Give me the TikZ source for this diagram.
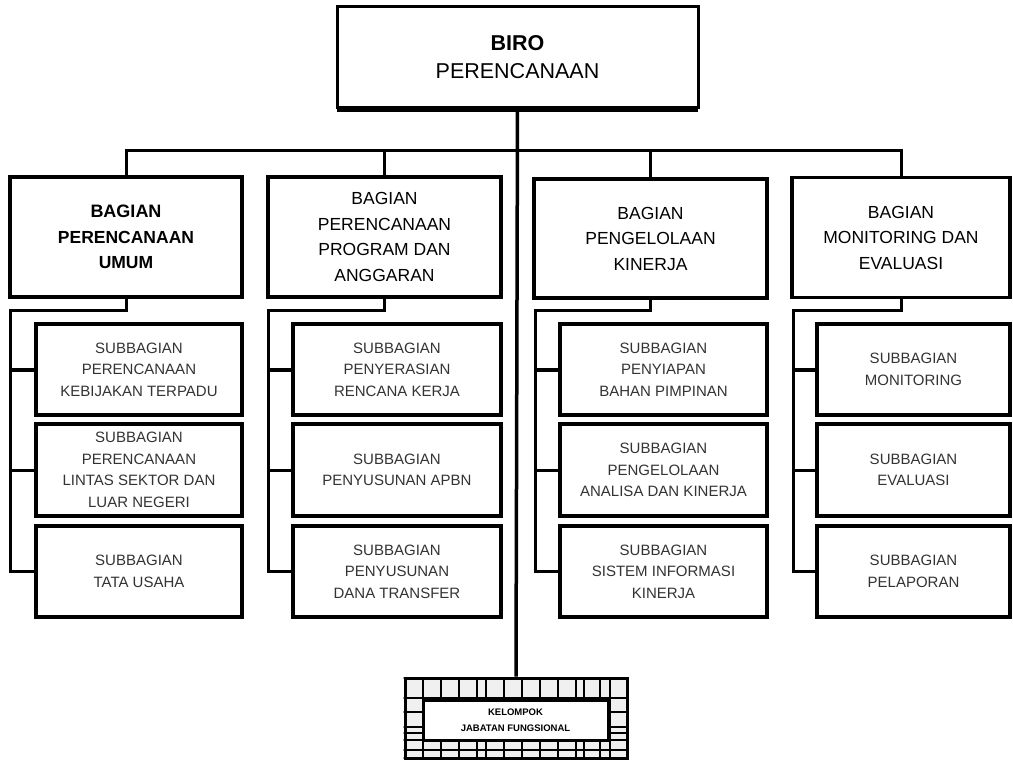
\documentclass[tikz,border=0pt]{standalone}
\usepackage{fontspec}
\setmainfont{Liberation Sans}
\begin{document}
\begin{tikzpicture}[x=1pt,y=-1pt,
  box/.style={draw,line width=3.2pt,fill=white,inner sep=2pt,align=center},
  topbox/.style={box,line width=3pt,minimum width=361pt,minimum height=101pt,font=\fontsize{21.5}{28}\selectfont},
  lvl/.style={box,minimum width=232pt,minimum height=120pt,font=\fontsize{17.5}{25.5}\selectfont},
  sub/.style={box,minimum height=91pt,text=black!80,font=\fontsize{15}{21.5}\selectfont},
  conn/.style={line width=3pt},
  grid line/.style={line width=1.4pt}]
\useasboundingbox (0,0) rectangle (1013,760);

% top
\node[topbox] (top) at (517.5,57.5) {\textbf{BIRO}\\PERENCANAAN};
\draw[line width=5pt] ([xshift=1.5pt]top.south west) -- ([xshift=-1.5pt]top.south east);

% level 2
\node[lvl] (L1) at (126,237) {\fontsize{18}{26}\selectfont\textbf{BAGIAN}\\\textbf{PERENCANAAN}\\\textbf{UMUM}};
\node[lvl,minimum width=233pt] (L2) at (384.5,237) {BAGIAN\\PERENCANAAN\\PROGRAM DAN\\ANGGARAN};
\node[lvl,minimum width=233pt,minimum height=119pt] (L3) at (650.5,238.5) {BAGIAN\\PENGELOLAAN\\KINERJA};
\node[lvl,minimum width=218pt] (L4) at (901,237.5) {BAGIAN\\MONITORING DAN\\EVALUASI};

% sub boxes column 1
\node[sub,minimum width=206pt] (A1) at (139,369.5) {SUBBAGIAN\\PERENCANAAN\\KEBIJAKAN TERPADU};
\node[sub,minimum width=206pt,minimum height=92pt] (A2) at (139,470) {SUBBAGIAN\\PERENCANAAN\\LINTAS SEKTOR DAN\\LUAR NEGERI};
\node[sub,minimum width=206pt] (A3) at (139,571.5) {SUBBAGIAN\\TATA USAHA};
% column 2
\node[sub,minimum width=208pt] (B1) at (397,369.5) {SUBBAGIAN\\PENYERASIAN\\RENCANA KERJA};
\node[sub,minimum width=208pt,minimum height=92pt] (B2) at (397,470) {SUBBAGIAN\\PENYUSUNAN APBN};
\node[sub,minimum width=208pt] (B3) at (397,571.5) {SUBBAGIAN\\PENYUSUNAN\\DANA TRANSFER};
% column 3
\node[sub,minimum width=207pt] (C1) at (663.5,369.5) {SUBBAGIAN\\PENYIAPAN\\BAHAN PIMPINAN};
\node[sub,minimum width=207pt,minimum height=92pt] (C2) at (663.5,470) {SUBBAGIAN\\PENGELOLAAN\\ANALISA DAN KINERJA};
\node[sub,minimum width=207pt] (C3) at (663.5,571.5) {SUBBAGIAN\\SISTEM INFORMASI\\KINERJA};
% column 4
\node[sub,minimum width=193pt] (D1) at (913.5,369.5) {SUBBAGIAN\\MONITORING};
\node[sub,minimum width=193pt,minimum height=92pt] (D2) at (913.5,470) {SUBBAGIAN\\EVALUASI};
\node[sub,minimum width=193pt] (D3) at (913.5,571.5) {SUBBAGIAN\\PELAPORAN};

% bottom functional group
\node[draw,line width=3pt,fill=black!6,minimum width=222pt,minimum height=80pt] (kel) at (516,718) {};
\begin{scope}
  \clip (kel.south west) rectangle (kel.north east);
  \foreach \x in {405,423,441,459,477,486,504,522,540,558,576,584,600,610,627}
    \draw[grid line] (\x,678) -- (\x,760);
  \foreach \y in {678,698,712,727,733,740,750,758}
    \draw[grid line] (400,\y) -- (630,\y);
\end{scope}
\node[draw,line width=3pt,fill=white,minimum width=185pt,minimum height=40pt,align=center,
  font=\fontsize{9.5}{16}\selectfont\bfseries] (kin) at (515.5,720) {KELOMPOK\\JABATAN FUNGSIONAL};

% connectors: top to bus and to functional group
\coordinate (bus) at (0,150);
\draw[line width=3.5pt] (top.south) -- (kel.north);
\draw[conn] (L1.north) |- (bus -| L4.north) -- (L4.north);
\draw[conn] (L2.north) -- (L2.north |- bus);
\draw[conn] (L3.north) -- (L3.north |- bus);

% connectors: level 2 to sub boxes
\foreach \p/\q/\sx in {L1/A/10,L2/B/268,L3/C/535,L4/D/793}{
  \coordinate (\q s) at (\sx,310);
  \draw[conn] (\p.south) |- (\q s) |- (\q3.west);
  \draw[conn,line width=4pt] (\q s |- \q1.west) -- (\q1.west);
  \draw[conn] (\q s |- \q2.west) -- (\q2.west);
}
\end{tikzpicture}
\end{document}
